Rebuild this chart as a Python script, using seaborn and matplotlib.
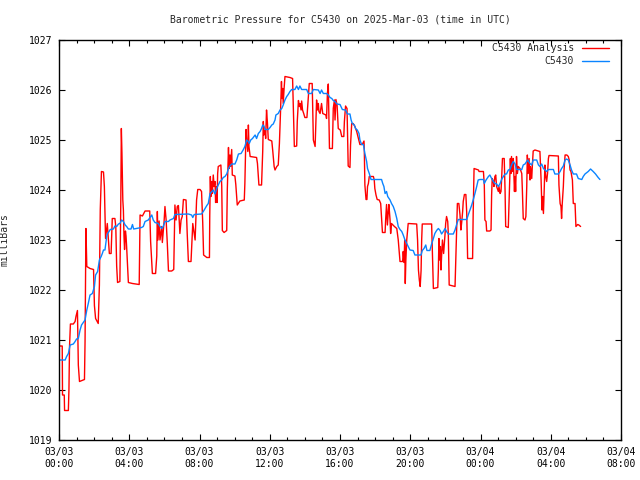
import pandas as pd
import matplotlib
matplotlib.use("Agg")
import matplotlib.pyplot as plt
import matplotlib.dates as mdates
import seaborn as sns

### Barometric pressure, station C5430 vs analysis
start = pd.Timestamp("2025-03-03 00:00")

# analysis series (minutes after 03/03 00:00 UTC, mbar)
red_minutes = [
    0, 11, 12, 18, 19, 32, 34, 36, 39, 49, 55, 58, 63, 64, 66, 70, 87, 89, 92, 95,
    106, 118, 121, 125, 134, 138, 141, 145, 152, 155, 157, 159, 165, 169, 172, 178, 180, 182, 191, 194,
    197, 200, 208, 211, 213, 215, 218, 220, 222, 224, 227, 229, 231, 237, 251, 274, 277, 285, 294, 310,
    313, 317, 319, 330, 334, 336, 338, 342, 345, 351, 353, 359, 362, 366, 370, 374, 385, 392, 396, 400,
    404, 408, 413, 417, 421, 425, 434, 438, 442, 451, 453, 457, 465, 468, 470, 474, 482, 487, 491, 494,
    505, 514, 515, 517, 519, 522, 524, 527, 530, 533, 535, 538, 540, 542, 544, 553, 556, 558, 564, 573,
    575, 579, 581, 584, 586, 590, 592, 601, 604, 607, 609, 618, 633, 635, 639, 641, 645, 647, 649, 653,
    675, 678, 681, 683, 692, 696, 698, 700, 704, 706, 709, 712, 715, 727, 730, 735, 738, 744, 749, 753,
    757, 760, 762, 764, 766, 769, 772, 789, 798, 801, 804, 812, 814, 818, 821, 823, 827, 829, 832, 836,
    840, 847, 852, 855, 865, 869, 875, 878, 880, 883, 886, 888, 892, 897, 901, 912, 914, 917, 920, 924,
    934, 937, 941, 943, 946, 950, 954, 961, 966, 973, 975,
    979, 984, 986, 988, 994, 996, 1000, 1005, 1011, 1017, 1023, 1028, 1036, 1042, 1043, 1045, 1049, 1052, 1054, 1057,
    1060, 1074, 1077, 1079, 1083, 1087, 1094, 1099, 1102, 1105, 1114, 1116, 1119, 1122, 1125, 1127, 1131, 1133, 1136, 1146,
    1154, 1159, 1163, 1165, 1174, 1176, 1179, 1181, 1183, 1185, 1188, 1193, 1222, 1225, 1228, 1231, 1234, 1237, 1239, 1241,
    1273, 1276, 1279, 1294, 1296, 1298, 1300, 1303, 1305, 1307, 1310, 1312, 1314, 1319, 1321, 1324, 1328, 1330, 1333, 1353,
    1355, 1358, 1361, 1366, 1370, 1373, 1376, 1379, 1381, 1385, 1390, 1393, 1396, 1413, 1415, 1418,
    1433, 1435, 1450, 1453, 1455, 1459, 1461, 1472, 1476, 1478, 1480, 1484, 1486, 1489, 1492, 1495, 1501, 1503, 1507, 1510,
    1512, 1515, 1521, 1524, 1526, 1535, 1537, 1540, 1542, 1544, 1546, 1549, 1552, 1556, 1558, 1560, 1563, 1566, 1569, 1575,
    1581, 1583, 1586, 1592, 1595, 1598, 1600, 1603, 1606, 1609, 1611, 1615, 1617, 1620, 1626, 1643, 1647, 1650, 1652, 1655,
    1658, 1660, 1663, 1666, 1669, 1672, 1674, 1706, 1708, 1712, 1715, 1717, 1719, 1723, 1725, 1729, 1735, 1740, 1743, 1746,
    1749, 1754, 1757, 1763, 1766, 1772, 1776, 1782,
]
red_mbar = [
    1020.88, 1020.88, 1019.90, 1019.90, 1019.59, 1019.59, 1020.02, 1020.88, 1021.32, 1021.32, 1021.37, 1021.47, 1021.59, 1021.23, 1020.50, 1020.17, 1020.21, 1020.97, 1023.23, 1022.47,
    1022.43, 1022.41, 1021.69, 1021.43, 1021.33, 1022.10, 1023.61, 1024.37, 1024.36, 1024.07, 1023.53, 1023.03, 1023.33, 1023.00, 1022.73, 1022.73, 1023.07, 1023.43, 1023.43, 1023.27,
    1022.48, 1022.15, 1022.17, 1023.70, 1025.23, 1024.75, 1023.80, 1023.60, 1023.08, 1022.81, 1023.18, 1023.08, 1022.87, 1022.15, 1022.13, 1022.11, 1023.50, 1023.48, 1023.58, 1023.58,
    1022.97, 1022.55, 1022.33, 1022.33, 1022.68, 1023.57, 1023.00, 1023.38, 1023.00, 1023.27, 1022.95, 1023.37, 1023.67, 1023.40, 1022.93, 1022.38, 1022.38, 1022.41, 1023.70, 1023.40,
    1023.67, 1023.69, 1023.13, 1023.40, 1023.47, 1023.81, 1023.80, 1023.13, 1022.57, 1022.57, 1022.83, 1023.33, 1023.00, 1023.47, 1023.80, 1024.01, 1024.01, 1023.97, 1023.35, 1022.70,
    1022.65, 1022.65, 1023.47, 1024.27, 1023.87, 1024.17, 1023.93, 1024.30, 1024.07, 1024.17, 1023.75, 1024.07, 1023.75, 1024.33, 1024.47, 1024.50, 1024.07, 1023.19, 1023.15, 1023.19,
    1024.01, 1024.85, 1024.43, 1024.70, 1024.47, 1024.81, 1024.30, 1024.28, 1024.11, 1023.87, 1023.70, 1023.78, 1023.80, 1024.13, 1025.21, 1025.00, 1024.77, 1025.30, 1024.87, 1024.67,
    1024.65, 1024.53, 1024.27, 1024.10, 1024.10, 1024.78, 1025.37, 1025.10, 1025.20, 1025.03, 1025.60, 1025.35, 1025.01, 1024.98, 1024.80, 1024.47, 1024.40, 1024.47, 1024.50, 1024.93,
    1025.60, 1026.17, 1025.83, 1026.03, 1025.73, 1026.03, 1026.27, 1026.25, 1026.23, 1025.57, 1024.87, 1024.88, 1025.37, 1025.79, 1025.67, 1025.73, 1025.60, 1025.78, 1025.60, 1025.53,
    1025.45, 1025.45, 1025.87, 1026.13, 1026.13, 1025.00, 1024.87, 1025.40, 1025.80, 1025.60, 1025.73, 1025.57, 1025.53, 1025.73, 1025.53, 1025.50, 1025.43, 1025.93, 1026.12, 1024.83,
    1024.83, 1025.63, 1025.80, 1025.40, 1025.81, 1025.70, 1025.23, 1025.20, 1025.07, 1025.07, 1025.37,
    1025.68, 1025.63, 1025.07, 1024.48, 1024.45, 1024.90, 1025.33, 1025.33, 1025.27, 1025.17, 1025.03, 1024.91, 1024.91, 1024.98, 1024.80, 1024.10, 1023.81, 1023.81, 1024.07, 1024.13,
    1024.27, 1024.27, 1024.20, 1024.03, 1023.90, 1023.81, 1023.80, 1023.73, 1023.43, 1023.15, 1023.15, 1023.41, 1023.71, 1023.30, 1023.57, 1023.71, 1023.40, 1023.13, 1023.33, 1023.27,
    1023.23, 1023.00, 1022.73, 1022.57, 1022.57, 1022.77, 1022.55, 1023.00, 1022.13, 1022.60, 1023.00, 1023.33, 1023.32, 1023.00, 1022.40, 1022.20, 1022.07, 1022.39, 1023.00, 1023.32,
    1023.32, 1022.67, 1022.03, 1022.05, 1022.40, 1023.03, 1022.60, 1022.87, 1022.40, 1022.67, 1023.00, 1022.87, 1022.73, 1023.13, 1023.33, 1023.47, 1023.37, 1023.13, 1022.10, 1022.07,
    1022.47, 1023.13, 1023.73, 1023.73, 1023.50, 1023.20, 1023.37, 1023.57, 1023.77, 1023.91, 1023.91, 1023.53, 1022.63, 1022.63, 1023.53, 1024.43,
    1024.40, 1024.37, 1024.37, 1024.10, 1023.40, 1023.37, 1023.18, 1023.18, 1023.20, 1023.90, 1024.23, 1024.17, 1024.07, 1024.27, 1024.30, 1024.07, 1023.97, 1024.07, 1023.93, 1023.97,
    1024.20, 1024.63, 1024.63, 1023.97, 1023.27, 1023.25, 1023.63, 1024.23, 1024.63, 1024.33, 1024.67, 1024.37, 1024.63, 1023.97, 1024.27, 1023.97, 1024.67, 1024.33, 1024.47, 1024.43,
    1024.33, 1024.00, 1023.43, 1023.40, 1023.47, 1024.07, 1024.70, 1024.33, 1024.63, 1024.20, 1024.47, 1024.23, 1024.47, 1024.78, 1024.80, 1024.77, 1024.20, 1023.60, 1023.87, 1023.53,
    1024.07, 1024.50, 1024.27, 1024.17, 1024.33, 1024.63, 1024.69, 1024.68, 1024.10, 1023.73, 1023.67, 1023.43, 1023.70, 1024.07, 1024.37, 1024.70, 1024.70, 1024.67, 1024.60, 1024.40,
    1024.37, 1024.20, 1023.73, 1023.73, 1023.27, 1023.31, 1023.30, 1023.27,
]

# station observations
blue_minutes = [
    0, 21, 26, 32, 38, 49, 55, 60, 66, 72, 77, 89, 95, 100, 106, 114, 121, 125, 132, 138,
    144, 148, 152, 157, 163, 166, 171, 175, 186, 191, 197, 203, 208, 214, 220, 226, 231, 237, 246, 251,
    255, 282, 288, 294, 305, 311, 317, 322, 328, 339, 345, 351, 356, 362, 374, 379, 391, 396, 442, 453,
    457, 462, 487, 493, 499, 505, 510, 516, 522, 527, 533, 539, 544, 550, 556, 561, 567, 573, 579, 584,
    590, 601, 607, 613, 622, 630, 635, 641, 647, 650, 655, 661, 666, 670, 675, 681, 687, 692, 696, 700,
    704, 715, 721, 727, 732, 738, 741, 749, 755, 761, 766, 772, 778, 783, 789, 795, 806, 812, 818, 823,
    829, 846, 852, 863, 869, 886, 892, 897, 903, 914, 920, 926, 932, 937, 943, 949, 960,
    968, 979, 985, 994, 998, 1002, 1009, 1013, 1019, 1025, 1028, 1034, 1040, 1045, 1051, 1054, 1060, 1066, 1102, 1106,
    1110, 1114, 1119, 1123, 1131, 1136, 1142, 1148, 1154, 1159, 1165, 1171, 1176, 1182, 1188, 1193, 1199, 1210, 1216, 1237,
    1241, 1247, 1253, 1257, 1267, 1273, 1279, 1284, 1290, 1296, 1302, 1307, 1313, 1319, 1324, 1330, 1347, 1353, 1358, 1364,
    1393, 1398, 1404, 1410, 1415, 1421, 1427, 1432, 1438, 1450, 1453,
    1459, 1467, 1472, 1478, 1484, 1489, 1495, 1501, 1507, 1512, 1518, 1524, 1529, 1535, 1541, 1546, 1552, 1558, 1563, 1581,
    1586, 1592, 1601, 1609, 1615, 1620, 1632, 1638, 1643, 1649, 1655, 1666, 1672, 1689, 1694, 1706, 1712, 1717, 1723, 1729,
    1734, 1740, 1746, 1751, 1757, 1768, 1774, 1786, 1791, 1797, 1808, 1816, 1825, 1833, 1842, 1848,
]
blue_mbar = [
    1020.60, 1020.60, 1020.67, 1020.73, 1020.90, 1020.92, 1020.97, 1021.02, 1021.03, 1021.20, 1021.30, 1021.40, 1021.60, 1021.73, 1021.90, 1021.93, 1022.07, 1022.30, 1022.37, 1022.60,
    1022.67, 1022.73, 1022.80, 1022.80, 1023.07, 1023.13, 1023.17, 1023.21, 1023.22, 1023.28, 1023.27, 1023.32, 1023.33, 1023.40, 1023.37, 1023.30, 1023.27, 1023.22, 1023.22, 1023.31,
    1023.22, 1023.25, 1023.27, 1023.37, 1023.40, 1023.45, 1023.50, 1023.40, 1023.35, 1023.33, 1023.27, 1023.23, 1023.27, 1023.37, 1023.37, 1023.40, 1023.43, 1023.51, 1023.52, 1023.50,
    1023.45, 1023.51, 1023.52, 1023.57, 1023.63, 1023.69, 1023.73, 1023.93, 1023.97, 1024.00, 1023.92, 1024.03, 1024.10, 1024.17, 1024.20, 1024.25, 1024.27, 1024.32, 1024.43, 1024.48,
    1024.52, 1024.52, 1024.60, 1024.72, 1024.73, 1024.81, 1024.87, 1025.00, 1024.97, 1024.93, 1025.00, 1025.03, 1025.07, 1025.10, 1025.03, 1025.13, 1025.17, 1025.23, 1025.30, 1025.28,
    1025.21, 1025.21, 1025.25, 1025.30, 1025.32, 1025.40, 1025.50, 1025.53, 1025.60, 1025.63, 1025.70, 1025.80, 1025.87, 1025.91, 1025.97, 1026.01, 1026.01, 1026.08, 1026.01, 1026.08,
    1026.01, 1026.01, 1025.93, 1025.93, 1026.01, 1026.00, 1025.93, 1026.00, 1025.93, 1025.93, 1025.90, 1025.85, 1025.83, 1025.79, 1025.77, 1025.72, 1025.71,
    1025.61, 1025.60, 1025.52, 1025.52, 1025.40, 1025.33, 1025.30, 1025.23, 1025.20, 1025.13, 1025.00, 1024.91, 1024.91, 1024.73, 1024.57, 1024.43, 1024.33, 1024.21, 1024.21, 1024.13,
    1024.07, 1023.93, 1023.97, 1023.87, 1023.80, 1023.73, 1023.67, 1023.57, 1023.43, 1023.27, 1023.21, 1023.17, 1023.10, 1023.00, 1022.93, 1022.87, 1022.80, 1022.79, 1022.70, 1022.70,
    1022.79, 1022.83, 1022.90, 1022.79, 1022.79, 1022.92, 1023.03, 1023.13, 1023.19, 1023.23, 1023.19, 1023.12, 1023.17, 1023.23, 1023.17, 1023.12, 1023.12, 1023.20, 1023.30, 1023.41,
    1023.41, 1023.50, 1023.60, 1023.70, 1023.80, 1023.93, 1024.07, 1024.20, 1024.21, 1024.21, 1024.13,
    1024.20, 1024.27, 1024.30, 1024.23, 1024.17, 1024.13, 1024.12, 1024.07, 1024.13, 1024.21, 1024.27, 1024.32, 1024.32, 1024.40, 1024.41, 1024.50, 1024.57, 1024.52, 1024.41, 1024.41,
    1024.50, 1024.52, 1024.60, 1024.53, 1024.50, 1024.60, 1024.60, 1024.50, 1024.47, 1024.52, 1024.43, 1024.37, 1024.41, 1024.41, 1024.32, 1024.32, 1024.37, 1024.43, 1024.48, 1024.60,
    1024.62, 1024.60, 1024.50, 1024.40, 1024.32, 1024.32, 1024.23, 1024.21, 1024.27, 1024.32, 1024.37, 1024.42, 1024.37, 1024.32, 1024.25, 1024.21,
]

y_ticks = [1019, 1020, 1021, 1022, 1023, 1024, 1025, 1026, 1027]

analysis = pd.DataFrame({"time": start + pd.to_timedelta(red_minutes, unit="m"), "mbar": red_mbar})
station = pd.DataFrame({"time": start + pd.to_timedelta(blue_minutes, unit="m"), "mbar": blue_mbar})

sns.set_theme(style="ticks")
plt.rcParams["font.family"] = ["DejaVu Sans Mono"]

fig = plt.figure(figsize=(6.4, 4.8), dpi=100)
ax = fig.add_axes([59 / 640, 40 / 480, 562 / 640, 400 / 480])

sns.lineplot(data=analysis, x="time", y="mbar", color="#ff0000", lw=1.0,
             estimator=None, sort=False, label="C5430 Analysis", ax=ax)
sns.lineplot(data=station, x="time", y="mbar", color="#0a84ff", lw=1.0,
             estimator=None, sort=False, label="C5430", ax=ax)

ax.set_xlim(start, start + pd.Timedelta(hours=32))
ax.set_ylim(1019, 1027)
ax.set_yticks(y_ticks)

ax.xaxis.set_major_locator(mdates.HourLocator(byhour=range(0, 24, 4)))
ax.xaxis.set_minor_locator(mdates.HourLocator())
ax.xaxis.set_major_formatter(mdates.DateFormatter("%m/%d\n%H:%M"))

ax.tick_params(axis="both", which="both", direction="in", top=True, right=True,
               colors="black", labelsize=7)
ax.tick_params(axis="both", which="major", length=4.5, width=0.8)
ax.tick_params(axis="x", which="minor", length=2.5, width=0.8)
ax.tick_params(axis="x", which="major", pad=5)
ax.tick_params(axis="y", which="major", pad=5)

for s in ax.spines.values():
    s.set_color("black")
    s.set_linewidth(1.0)

ax.set_xlabel("")
ax.set_ylabel("milliBars", fontsize=7)
ax.yaxis.set_label_coords(-49 / 562, 0.5)

fig.text(340 / 640, 1 - 20 / 480, "Barometric Pressure for C5430 on 2025-Mar-03 (time in UTC)",
         ha="center", va="center", fontsize=7)

ax.legend(loc="upper right", bbox_to_anchor=((609 - 59) / 562, (440 - 43) / 400),
          frameon=False, markerfirst=False, fontsize=7, handlelength=2.8,
          handletextpad=0.8, labelspacing=0.3, borderpad=0, borderaxespad=0)

plt.savefig("out.png", dpi=100)
